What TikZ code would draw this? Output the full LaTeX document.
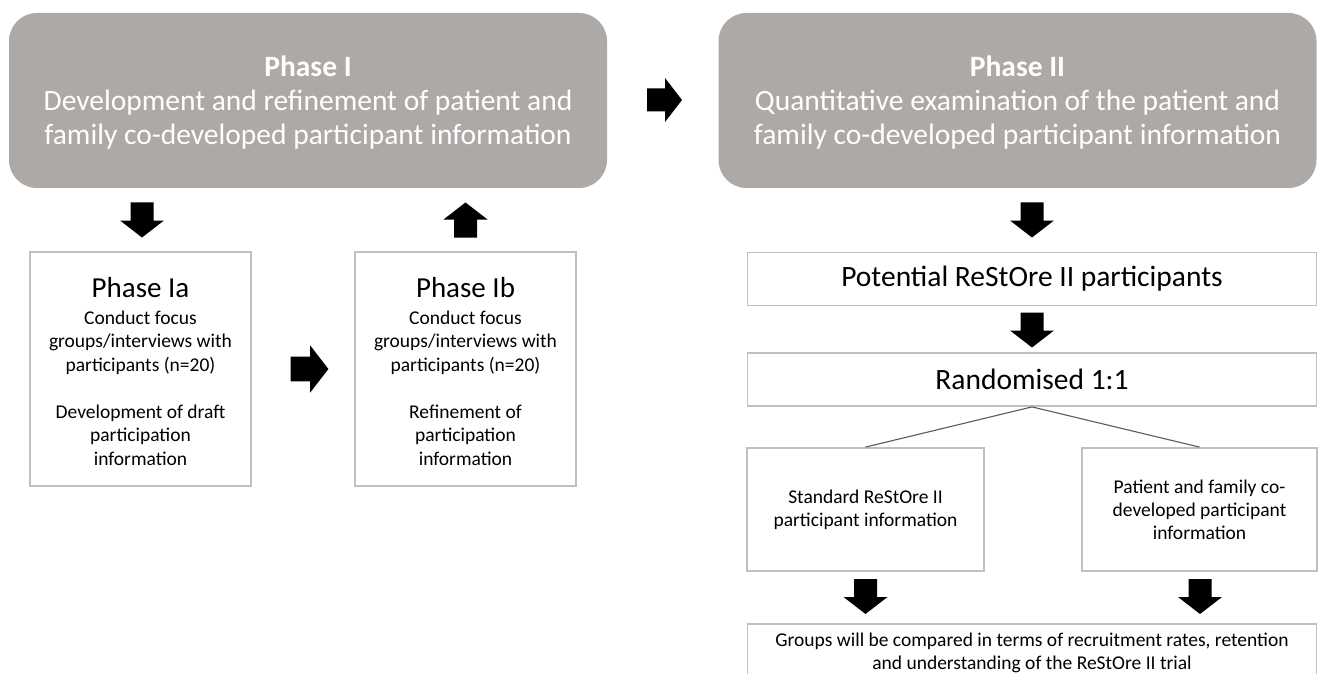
\documentclass[tikz,border=0pt]{standalone}
\usepackage{fontspec}
\setmainfont{Carlito}
\definecolor{phasegray}{RGB}{173,169,167}
\definecolor{boxgray}{RGB}{191,191,191}
\definecolor{linegray}{RGB}{90,90,90}
\newcommand{\blockarrow}[4][1]{%
  \begin{scope}[shift={(#2,#3)}, rotate=#4, scale=#1]
    \fill[black] (-17.5,-11.5) -- (0.5,-11.5) -- (0.5,-22) -- (17.5,0) -- (0.5,22) -- (0.5,11.5) -- (-17.5,11.5) -- cycle;
  \end{scope}}
\begin{document}
\begin{tikzpicture}[x=1pt,y=-1pt,
  phasebox/.style={fill=phasegray, rounded corners=28pt, minimum width=598pt, minimum height=175pt, inner sep=0pt},
  phasetext/.style={text=white, align=center, inner sep=0pt, font=\fontsize{29.5}{34}\selectfont},
  wbox/.style={draw=boxgray, line width=1.8pt, fill=white, align=center, inner sep=0pt},
  plain/.style={align=center, inner sep=0pt},
  smalltext/.style={plain, font=\fontsize{19.5}{23.5}\selectfont},
  splitline/.style={draw=linegray, line width=1.1pt}]
\clip (0,0) rectangle (1318,674);
\fill[white] (0,0) rectangle (1318,674);

% Phase boxes
\node[phasebox] (p1) at (308,100.5) {};
\node[phasetext] (p1text) at (308,102.5) {\textbf{Phase I}\\Development and refinement of patient and\\family co-developed participant information};
\node[phasebox] (p2) at (1017.5,100.5) {};
\node[phasetext] (p2text) at (1017.5,102.5) {\textbf{Phase II}\\Quantitative examination of the patient and\\family co-developed participant information};

% Phase Ia / Ib
\node[wbox, minimum width=221pt, minimum height=234pt] (ia) at (140.5,369) {};
\node[smalltext] (iatext) at (140.5,371.5)
  {{\fontsize{29}{30}\selectfont Phase Ia}\\[3pt]Conduct focus\\groups/interviews with\\participants (n=20)\\[23.5pt]Development of draft\\participation\\information};
\node[wbox, minimum width=221pt, minimum height=234pt] (ib) at (465.5,369) {};
\node[smalltext] (ibtext) at (465.5,371.5)
  {{\fontsize{29}{30}\selectfont Phase Ib}\\[3pt]Conduct focus\\groups/interviews with\\participants (n=20)\\[23.5pt]Refinement of\\participation\\information};

% Right column
\node[wbox, minimum width=569pt, minimum height=53pt, font=\fontsize{29.5}{34}\selectfont] (pot) at (1032,279) {Potential ReStOre II participants};
\node[wbox, minimum width=569pt, minimum height=53pt, font=\fontsize{29.5}{34}\selectfont] (rand) at (1032,379.5) {Randomised 1:1};
\node[wbox, minimum width=237pt, minimum height=123pt, font=\fontsize{19.5}{23}\selectfont] (std) at (865.5,509.5) {Standard ReStOre II\\participant information};
\node[wbox, minimum width=235pt, minimum height=123pt, font=\fontsize{19.5}{23}\selectfont] (pat) at (1199.5,509.5) {Patient and family co-\\developed participant\\information};
\node[wbox, minimum width=569pt, minimum height=80pt] (fin) at (1032,664) {};
\node[plain, font=\fontsize{19.5}{22.5}\selectfont] (fintext) at (1032,653) {Groups will be compared in terms of recruitment rates, retention\\and understanding of the ReStOre II trial};

% split lines
\draw[splitline] (rand.south) -- (std.north);
\draw[splitline] (rand.south) -- (pat.north);

% block arrows
\blockarrow{664.5}{100}{0}
\blockarrow{142}{220}{-90}
\blockarrow{465.5}{220}{90}
\blockarrow[1.08]{309.5}{369}{0}
\blockarrow{1032}{220}{-90}
\blockarrow{1032}{330}{-90}
\blockarrow{865.5}{596.5}{-90}
\blockarrow{1200}{596.5}{-90}
\end{tikzpicture}
\end{document}
